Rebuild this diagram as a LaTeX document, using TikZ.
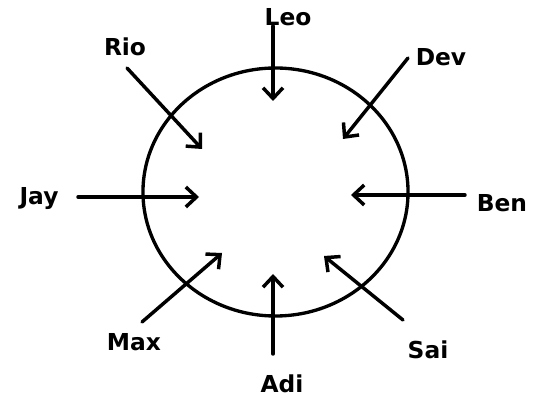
\documentclass[tikz,border=0pt]{standalone}
\usepackage{fontspec}
\setmainfont{DejaVu Sans}
\usetikzlibrary{arrows.meta}
\begin{document}
\begin{tikzpicture}[x=0.75pt,y=-0.75pt,
  lbl/.style={font=\bfseries\fontsize{17.5}{20}\selectfont, inner sep=0pt},
  arr/.style={line width=2.6pt, line cap=round, line join=round,
    -{Straight Barb[length=8pt,width=15pt,line width=2.6pt]}}]
\useasboundingbox (0,0) rectangle (534,398);
\draw[line width=2.5pt] (275.5,192) ellipse [x radius=99.4pt, y radius=93pt];
% labels
\node[lbl] (leo) at (288,17) {Leo};
\node[lbl] (rio) at (125,47) {Rio};
\node[lbl] (dev) at (441,57) {Dev};
\node[lbl] (jay) at (39,199) {Jay};
\node[lbl] (ben) at (502,203) {Ben};
\node[lbl] (max) at (134,342) {Max};
\node[lbl] (sai) at (428,350) {Sai};
\node[lbl] (adi) at (282,384) {Adi};
% tails and tips
\coordinate (leoT) at (273,26);  \coordinate (leoH) at (273,101);
\coordinate (rioT) at (127,68);  \coordinate (rioH) at (202,149);
\coordinate (devT) at (408,58);  \coordinate (devH) at (343,139);
\coordinate (jayT) at (78,197);  \coordinate (jayH) at (199,197);
\coordinate (benT) at (465,195); \coordinate (benH) at (351,195);
\coordinate (maxT) at (142,322); \coordinate (maxH) at (222,253);
\coordinate (saiT) at (403,320); \coordinate (saiH) at (324,256);
\coordinate (adiT) at (273,354); \coordinate (adiH) at (273,274);
\foreach \n in {leo,rio,dev,jay,ben,max,sai,adi}
  \draw[arr] (\n T) -- (\n H);
\end{tikzpicture}
\end{document}
